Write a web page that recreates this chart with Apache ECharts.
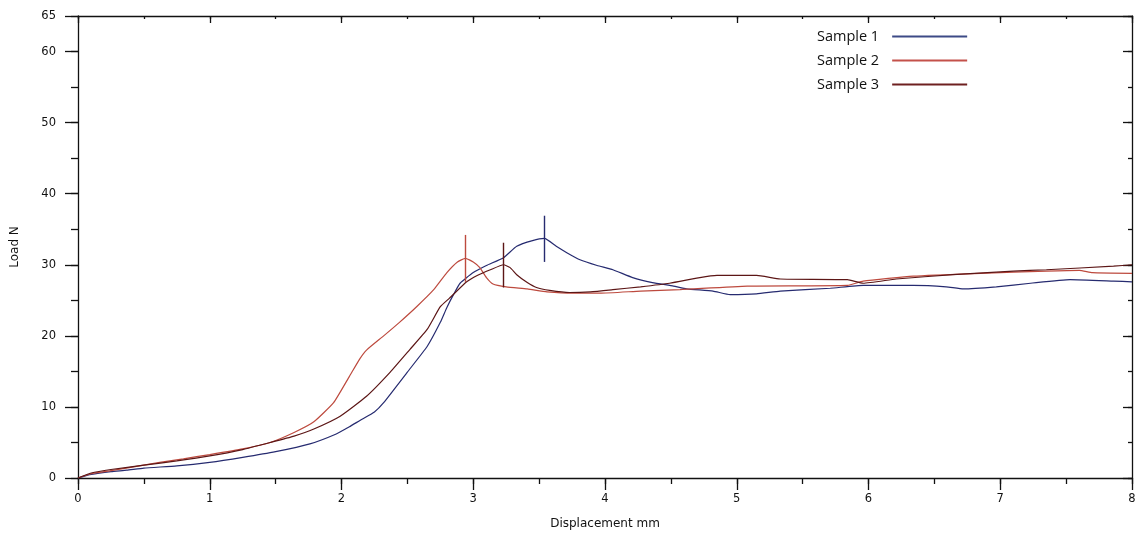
<!DOCTYPE html>
<html>
<head>
<meta charset="utf-8">
<style>
html,body{margin:0;padding:0;background:#fff;}
#chart{width:1141px;height:535px;}
</style>
<script src="https://cdn.jsdelivr.net/npm/echarts@6/dist/echarts.min.js"></script>
</head>
<body>
<div id="chart"></div>
<script>
// ---- data ----
var seriesNames = ['Sample 1', 'Sample 2', 'Sample 3'];
var sample1 = [[0,0],[0.1,0.5],[0.25,0.9],[0.37,1.1],[0.5,1.4],[0.75,1.7],[1.0,2.2],[1.25,2.9],[1.5,3.7],[1.76,4.8],[1.96,6.2],[2.06,7.2],[2.14,8.1],[2.25,9.3],[2.32,10.6],[2.5,14.9],[2.65,18.5],[2.75,21.9],[2.8,24.0],[2.85,25.8],[2.9,27.4],[3.0,28.9],[3.1,29.9],[3.23,31.0],[3.33,32.6],[3.45,33.4],[3.54,33.7],[3.63,32.6],[3.71,31.7],[3.81,30.7],[3.94,29.9],[4.06,29.3],[4.21,28.2],[4.36,27.5],[4.52,27.0],[4.62,26.6],[4.82,26.3],[4.95,25.8],[5.15,25.9],[5.33,26.3],[5.71,26.7],[5.96,27.1],[6.34,27.1],[6.59,26.9],[6.72,26.6],[6.97,26.9],[7.23,27.4],[7.53,27.9],[7.86,27.7],[8.0,27.6]];
var sample2 = [[0,0],[0.1,0.6],[0.24,1.0],[0.4,1.5],[0.62,2.2],[0.8,2.7],[1.0,3.3],[1.25,4.1],[1.46,5.0],[1.64,6.4],[1.79,7.9],[1.94,10.6],[2.06,14.3],[2.14,16.8],[2.19,18.0],[2.32,20.0],[2.44,21.9],[2.57,24.1],[2.7,26.5],[2.8,28.9],[2.88,30.4],[2.94,30.9],[3.0,30.4],[3.05,29.6],[3.1,28.2],[3.15,27.3],[3.25,26.9],[3.41,26.6],[3.56,26.2],[3.76,26.0],[3.96,26.0],[4.27,26.3],[4.57,26.5],[5.08,27.0],[5.84,27.1],[5.96,27.7],[6.34,28.4],[6.85,28.8],[7.35,29.1],[7.6,29.2],[7.7,28.9],[8.0,28.8]];
var sample3 = [[0,0],[0.1,0.7],[0.25,1.2],[0.5,1.8],[0.75,2.4],[1.0,3.1],[1.25,4.0],[1.46,5.0],[1.64,5.9],[1.79,6.9],[1.99,8.7],[2.19,11.5],[2.37,14.9],[2.52,18.1],[2.65,20.9],[2.75,24.1],[2.82,25.3],[2.95,27.6],[3.03,28.5],[3.13,29.3],[3.23,30.0],[3.28,29.6],[3.33,28.6],[3.41,27.5],[3.48,26.8],[3.58,26.4],[3.73,26.1],[3.89,26.2],[4.06,26.5],[4.27,26.9],[4.49,27.4],[4.72,28.2],[4.85,28.5],[5.15,28.5],[5.33,28.0],[5.84,27.9],[5.96,27.4],[6.21,28.0],[6.64,28.6],[7.1,29.1],[7.35,29.3],[7.86,29.8],[8.0,30.0]];
// peak markers: x, top, bottom
var peakX = [3.54, 2.94, 3.23];
var peakTop = [36.9, 34.2, 33.1];
var peakBottom = [30.4, 27.6, 26.8];
var xTicks = [0, 8, 1, 0.5];   // min, max, major, minor
var yTicks = [0, 65, 10, 5];

var colors = ['#262b70', '#bd4a3e', '#5c1616'];
var legendColors = ['#3d4a86', '#c4514a', '#6e2020'];
var data = [sample1, sample2, sample3];

var axisCol = '#111';
var lblFont = {fontFamily: 'DejaVu Sans', fontSize: 11.5, color: '#111'};

function xAx(pos, interval, len, inside, showLine, showLabel, extra) {
  var o = {
    type: 'value', min: xTicks[0], max: xTicks[1], interval: interval, position: pos,
    axisLine: {show: showLine, onZero: false, lineStyle: {color: axisCol, width: 1.3}},
    axisTick: {show: true, inside: inside, length: len, lineStyle: {color: axisCol, width: 1.3}},
    axisLabel: {show: showLabel, margin: 15, fontFamily: lblFont.fontFamily, fontSize: lblFont.fontSize, color: lblFont.color},
    splitLine: {show: false}
  };
  return Object.assign(o, extra || {});
}
function yAx(pos, interval, len, inside, showLine, showLabel, extra) {
  var o = {
    type: 'value', min: yTicks[0], max: yTicks[1], interval: interval, position: pos,
    axisLine: {show: showLine, onZero: false, lineStyle: {color: axisCol, width: 1.3}},
    axisTick: {show: true, inside: inside, length: len, lineStyle: {color: axisCol, width: 1.3}},
    axisLabel: {show: showLabel, margin: 22, fontFamily: lblFont.fontFamily, fontSize: lblFont.fontSize, color: lblFont.color},
    splitLine: {show: false}
  };
  return Object.assign(o, extra || {});
}

var series = data.map(function (d, i) {
  return {
    name: seriesNames[i], type: 'line', data: d, xAxisIndex: 0, yAxisIndex: 0,
    showSymbol: false, symbol: 'none', color: colors[i],
    smooth: 0.15,
    lineStyle: {width: 1.2, color: colors[i]},
    markLine: {
      silent: true, symbol: 'none', label: {show: false},
      lineStyle: {type: 'solid', width: 1.4, color: colors[i]},
      data: [[{coord: [peakX[i], peakTop[i]]}, {coord: [peakX[i], peakBottom[i]]}]]
    }
  };
});

var chart = echarts.init(document.getElementById('chart'), null, {renderer: 'canvas'});
chart.setOption({
  animation: false,
  backgroundColor: '#fff',
  grid: {left: 78, right: 9, top: 16, bottom: 56, containLabel: false},
  legend: {
    orient: 'vertical', left: 812, top: 23, align: 'right',
    itemWidth: 75, itemHeight: 2, itemGap: 7, icon: 'rect',
    textStyle: {fontFamily: 'Open Sans', fontSize: 14.5, color: '#111', lineHeight: 17, padding: [0, 8, 0, 0]},
    data: seriesNames.map(function (n, i) { return {name: n, itemStyle: {color: legendColors[i]}}; })
  },
  xAxis: [
    xAx('bottom', xTicks[2], 12, false, true, true, {
      name: 'Displacement mm', nameLocation: 'middle', nameGap: 40,
      nameTextStyle: {fontFamily: 'DejaVu Sans', fontSize: 12, color: '#111'}
    }),
    xAx('bottom', xTicks[3], 6, false, false, false),
    xAx('top', xTicks[2], 7, true, true, false),
    xAx('top', xTicks[3], 3, true, false, false)
  ],
  yAxis: [
    yAx('left', yTicks[2], 13, false, true, true, {
      name: 'Load N', nameLocation: 'middle', nameGap: 57, nameRotate: 90,
      nameTextStyle: {fontFamily: 'DejaVu Sans', fontSize: 12, color: '#111'}
    }),
    yAx('left', yTicks[3], 7, false, false, false),
    yAx('right', yTicks[2], 9, true, true, false),
    yAx('right', yTicks[3], 4, true, false, false)
  ],
  series: series
});
</script>
</body>
</html>
